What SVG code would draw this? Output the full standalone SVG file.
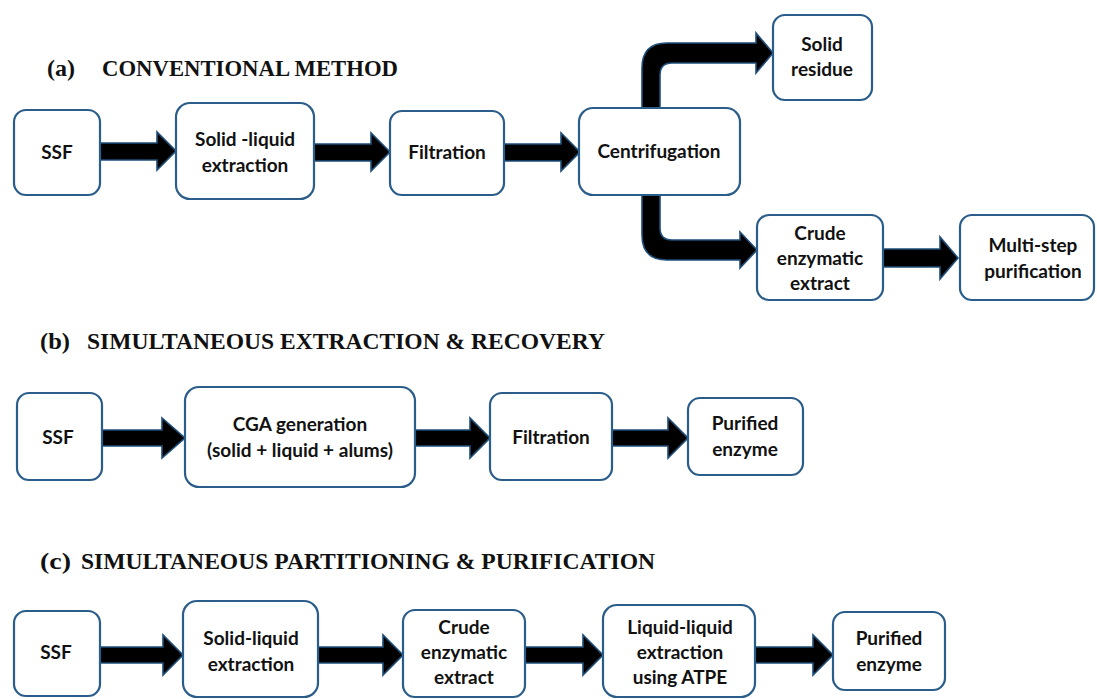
<svg xmlns="http://www.w3.org/2000/svg" width="1097" height="699" viewBox="0 0 1097 699">
<style>
.box{fill:#ffffff;stroke:#2b5d8a;stroke-width:2.2}
.t{font-family:Lato,"Liberation Sans",sans-serif;font-weight:bold;font-size:19px;fill:#111;text-anchor:middle}
.h{font-family:"Liberation Serif","Times New Roman",serif;font-weight:bold;font-size:23px;fill:#111}
.arr{fill:#000;stroke:#1f4e79;stroke-width:1.6;stroke-linejoin:miter}
</style>
<rect width="1097" height="699" fill="#ffffff"/>
<g id="headings">
<text class="h" x="47" y="76" textLength="28" lengthAdjust="spacingAndGlyphs">(a)</text>
<text class="h" x="102" y="76" textLength="296" lengthAdjust="spacingAndGlyphs">CONVENTIONAL METHOD</text>
<text class="h" x="40" y="349" textLength="30" lengthAdjust="spacingAndGlyphs">(b)</text>
<text class="h" x="87" y="349" textLength="518" lengthAdjust="spacingAndGlyphs">SIMULTANEOUS EXTRACTION &amp; RECOVERY</text>
<text class="h" x="40" y="569" textLength="31" lengthAdjust="spacingAndGlyphs">(c)</text>
<text class="h" x="81" y="569" textLength="574" lengthAdjust="spacingAndGlyphs">SIMULTANEOUS PARTITIONING &amp; PURIFICATION</text>
</g>
<g id="connectors">
<polygon class="arr" points="100,143 157,143 157,132 176,151 157,170 157,160 100,160"/>
<polygon class="arr" points="314,144 371,144 371,133 390,152 371,171 371,161 314,161"/>
<polygon class="arr" points="504,144 561,144 561,133 580,152 561,171 561,161 504,161"/>
<path class="arr" d="M642 108 L642 68 Q642 43 667 43 L756 43 L756 33 L773 53 L756 73 L756 63 L672 63 Q660 63 660 75 L660 108 Z"/>
<path class="arr" d="M642 195 L642 235 Q642 260 667 260 L740 260 L740 268 L757 250 L740 232 L740 240 L672 240 Q660 240 660 228 L660 195 Z"/>
<polygon class="arr" points="883,249 940,249 940,237 958,258 940,279 940,267 883,267"/>
<polygon class="arr" points="102,430 162,430 162,418 185,438 162,458 162,446 102,446"/>
<polygon class="arr" points="415,430 470,430 470,418 490,438 470,458 470,446 415,446"/>
<polygon class="arr" points="612,430 668,430 668,418 688,438 668,458 668,446 612,446"/>
<polygon class="arr" points="100,647 163,647 163,635 183,655 163,675 163,663 100,663"/>
<polygon class="arr" points="318,647 383,647 383,635 403,655 383,675 383,663 318,663"/>
<polygon class="arr" points="525,647 583,647 583,635 603,655 583,675 583,663 525,663"/>
<polygon class="arr" points="755,647 813,647 813,635 833,655 813,675 813,663 755,663"/>
</g>
<g id="a-ssf"><rect class="box" x="14" y="110" width="86" height="85" rx="12"/><text class="t" x="57" y="159">SSF</text></g>
<g id="a-sle"><rect class="box" x="176" y="103" width="138" height="96" rx="14"/><text class="t" x="245" y="146">Solid -liquid</text><text class="t" x="245" y="172">extraction</text></g>
<g id="a-filt"><rect class="box" x="390" y="111" width="114" height="84" rx="12"/><text class="t" x="447" y="159">Filtration</text></g>
<g id="a-cent"><rect class="box" x="579" y="108" width="161" height="87" rx="14"/><text class="t" x="659" y="158">Centrifugation</text></g>
<g id="a-solid"><rect class="box" x="773" y="15" width="99" height="85" rx="12"/><text class="t" x="822" y="51">Solid</text><text class="t" x="822" y="76">residue</text></g>
<g id="a-crude"><rect class="box" x="757" y="215" width="126" height="85" rx="12"/><text class="t" x="820" y="240">Crude</text><text class="t" x="820" y="265">enzymatic</text><text class="t" x="820" y="290">extract</text></g>
<g id="a-multi"><rect class="box" x="960" y="215" width="134" height="85" rx="12"/><text class="t" x="1033" y="252">Multi-step</text><text class="t" x="1033" y="278">purification</text></g>
<g id="b-ssf"><rect class="box" x="17" y="393" width="85" height="87" rx="12"/><text class="t" x="58" y="444">SSF</text></g>
<g id="b-cga"><rect class="box" x="185" y="387" width="230" height="100" rx="14"/><text class="t" x="300" y="431">CGA generation</text><text class="t" x="300" y="457">(solid + liquid + alums)</text></g>
<g id="b-filt"><rect class="box" x="490" y="393" width="122" height="87" rx="12"/><text class="t" x="551" y="444">Filtration</text></g>
<g id="b-pur"><rect class="box" x="688" y="398" width="115" height="77" rx="12"/><text class="t" x="745" y="430">Purified</text><text class="t" x="745" y="456">enzyme</text></g>
<g id="c-ssf"><rect class="box" x="14" y="611" width="86" height="85" rx="12"/><text class="t" x="56" y="659">SSF</text></g>
<g id="c-sle"><rect class="box" x="183" y="601" width="135" height="96" rx="14"/><text class="t" x="251" y="645">Solid-liquid</text><text class="t" x="251" y="671">extraction</text></g>
<g id="c-crude"><rect class="box" x="403" y="610" width="122" height="87" rx="12"/><text class="t" x="464" y="634">Crude</text><text class="t" x="464" y="659">enzymatic</text><text class="t" x="464" y="684">extract</text></g>
<g id="c-lle"><rect class="box" x="603" y="605" width="152" height="92" rx="14"/><text class="t" x="680" y="634">Liquid-liquid</text><text class="t" x="680" y="659">extraction</text><text class="t" x="680" y="684">using ATPE</text></g>
<g id="c-pur"><rect class="box" x="833" y="612" width="112" height="78" rx="12"/><text class="t" x="889" y="645">Purified</text><text class="t" x="889" y="671">enzyme</text></g>
</svg>
